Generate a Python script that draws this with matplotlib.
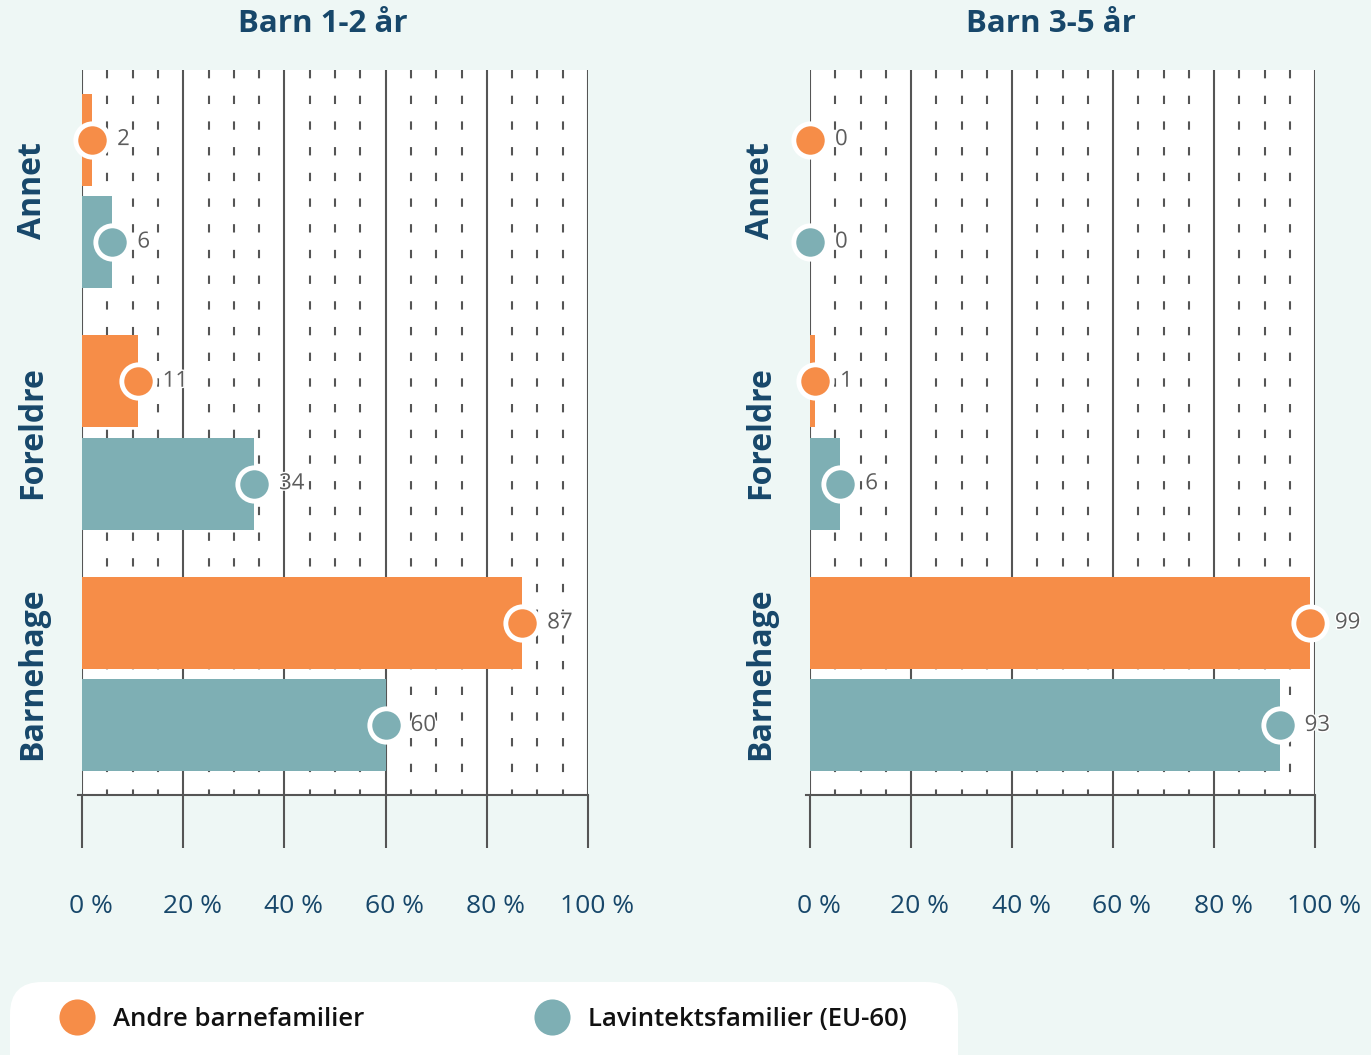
import matplotlib
matplotlib.use('Agg')
import matplotlib.pyplot as plt
import matplotlib.patheffects as pe
from matplotlib.lines import Line2D
from matplotlib.patches import FancyBboxPatch
from matplotlib.transforms import ScaledTranslation

plt.rcParams['font.family'] = ['Open Sans', 'DejaVu Sans']
plt.rcParams['lines.scale_dashes'] = False

categories = ['Annet', 'Foreldre', 'Barnehage']
titles = ['Barn 1-2 år', 'Barn 3-5 år']
series = ['Andre barnefamilier', 'Lavintektsfamilier (EU-60)']
andre = [[2, 11, 87], [0, 1, 99]]
lavint = [[6, 34, 60], [0, 6, 93]]
xticks = [0, 20, 40, 60, 80, 100]
xticklabels = ['0 %', '20 %', '40 %', '60 %', '80 %', '100 %']
minor = [5, 10, 15, 25, 30, 35, 45, 50, 55, 65, 70, 75, 85, 90, 95]

bg = '#eef7f5'
orange = '#f68d48'
teal = '#7eafb4'
navy = '#17476a'
grid = '#555555'

fig = plt.figure(figsize=(13.71, 10.55), dpi=100, facecolor=bg)
W, H = 1371, 1055
lefts = [82, 810]
widths = [506, 505]

for k in range(2):
    ax = fig.add_axes([lefts[k] / W, 1 - 795 / H, widths[k] / W, 725 / H])
    ax.set_facecolor('white')
    ax.set_xlim(0, 100)
    ax.set_ylim(2.5, -0.5)
    for s in ['top', 'right', 'left']:
        ax.spines[s].set_visible(False)
    ax.spines['bottom'].set_color(grid)
    ax.spines['bottom'].set_linewidth(1.5)
    ax.plot([-0.8, 0], [2.5, 2.5], color=grid, lw=1.5, clip_on=False)

    # dashed 5 % lines and solid 20 % lines
    ax.vlines(minor, -0.5, 2.5, colors=grid, lw=1.5, linestyles=[(0, (6, 12.5))], zorder=1)
    ax.vlines(xticks, -0.5, 2.5, colors=grid, lw=1.5, zorder=1)

    pos = list(range(len(categories)))
    ya = [p - 0.212 for p in pos]
    yl = [p + 0.212 for p in pos]
    ax.barh(ya, andre[k], height=0.38, color=orange, zorder=2)
    ax.barh(yl, lavint[k], height=0.38, color=teal, zorder=2)
    for vals, ys, c in [(andre[k], ya, orange), (lavint[k], yl, teal)]:
        ax.plot(vals, ys, 'o', ms=24, mfc=c, mec='white', mew=3.5, ls='none',
                clip_on=False, zorder=3)
        for v, y in zip(vals, ys):
            ax.annotate(str(v), (v, y), xytext=(18, 0), textcoords='offset points',
                        va='center', ha='left', fontsize=16, color='#5c5c5c', zorder=4,
                        path_effects=[pe.withStroke(linewidth=2, foreground='white')])

    ax.set_xticks(xticks)
    ax.set_xticklabels(xticklabels, fontsize=19, color=navy)
    ax.tick_params(axis='x', length=38, width=1.5, color=grid, pad=33)
    off = ScaledTranslation(9 / 100, 0, fig.dpi_scale_trans)
    for lab in ax.get_xticklabels():
        lab.set_transform(lab.get_transform() + off)

    ax.set_yticks(pos)
    ax.set_yticklabels(categories, rotation=90, va='center', fontsize=23,
                       fontweight='bold', color=navy)
    ax.tick_params(axis='y', length=0, pad=24)
    ax.set_title(titles[k], fontsize=22.5, fontweight='bold', color=navy, pad=27,
                 x=0.5 - 12 / widths[k])

# legend panel
fig.patches.append(FancyBboxPatch((0.10, -0.4), 9.48, 1.13,
                                  boxstyle='round,pad=0,rounding_size=0.32',
                                  transform=fig.dpi_scale_trans, facecolor='white',
                                  edgecolor='none', zorder=0))
handles = [Line2D([], [], marker='o', ls='none', ms=26, mfc=c, mec='none')
           for c in [orange, teal]]
leg = fig.legend(handles, series, loc='center left', bbox_to_anchor=(59 / W, 1 - 1019 / H),
                 ncol=2, frameon=False, borderpad=0, borderaxespad=0, handlelength=1.4,
                 handletextpad=0.7, columnspacing=6.6,
                 prop={'size': 18.5, 'weight': 'semibold'})
for t in leg.get_texts():
    t.set_color('#111111')

fig.savefig('out.png', dpi=100, facecolor=bg)
